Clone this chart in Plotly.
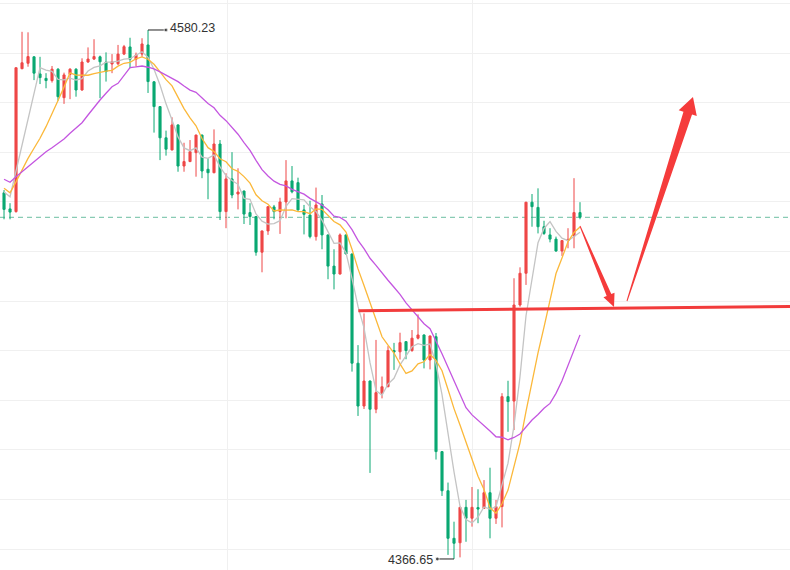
import plotly.graph_objects as go
import pandas as pd
import math

# ---------------- data ----------------
opens = [4514.5, 4508.0, 4506.9, 4564.6, 4566.8, 4569.4, 4562.5, 4560.7, 4559.8, 4564.4,
         4552.9, 4562.3, 4564.4, 4556.0, 4567.3, 4568.5, 4569.4, 4567.3, 4566.5, 4566.6,
         4570.5, 4573.4, 4568.4, 4570.5, 4574.2, 4559.3, 4549.3, 4536.7, 4531.8, 4541.9,
         4525.3, 4527.1, 4530.7, 4537.8, 4524.0, 4522.6, 4534.2, 4506.9, 4520.1, 4514.0,
         4515.2, 4506.5, 4504.9, 4490.5, 4499.1, 4508.8, 4506.9, 4510.8, 4519.3, 4518.6,
         4507.6, 4505.5, 4496.8, 4510.0, 4497.5, 4484.9, 4481.7, 4497.5, 4489.8, 4445.7,
         4428.4, 4438.5, 4427.1, 4433.6, 4436.2, 4450.8, 4450.3, 4454.4, 4450.8, 4455.8,
         4457.1, 4447.0, 4456.4, 4410.0, 4394.2, 4375.0, 4373.2, 4387.5, 4383.1, 4387.4,
         4387.1, 4393.4, 4383.1, 4387.8, 4432.2, 4430.4, 4469.2, 4482.0, 4510.7, 4508.6,
         4500.8, 4497.5, 4495.8, 4491.0, 4495.2, 4497.0, 4506.5]
highs = [4515.6, 4510.3, 4565.0, 4579.5, 4579.3, 4569.6, 4569.4, 4562.8, 4565.7, 4564.8,
         4563.0, 4564.8, 4564.8, 4568.8, 4573.2, 4576.5, 4569.9, 4571.2, 4570.5, 4574.2,
         4574.2, 4577.1, 4571.1, 4576.9, 4580.23, 4559.6, 4549.5, 4539.6, 4545.0, 4542.1,
         4534.7, 4535.8, 4538.0, 4538.0, 4528.4, 4540.1, 4535.8, 4522.4, 4530.9, 4524.4,
         4515.4, 4510.3, 4505.0, 4499.2, 4509.0, 4509.6, 4512.5, 4527.7, 4525.3, 4520.6,
         4509.6, 4511.3, 4516.6, 4513.6, 4497.6, 4491.7, 4498.1, 4497.6, 4490.0, 4453.0,
         4465.8, 4438.7, 4455.1, 4440.3, 4452.6, 4453.9, 4458.0, 4454.6, 4459.1, 4465.4,
         4457.3, 4456.8, 4457.9, 4410.2, 4397.5, 4381.7, 4387.7, 4390.5, 4395.7, 4394.8,
         4398.5, 4403.5, 4390.5, 4433.6, 4438.6, 4480.0, 4484.4, 4510.8, 4514.0, 4516.3,
         4503.2, 4500.2, 4496.8, 4495.3, 4500.2, 4520.4, 4510.7]
lows = [4503.8, 4503.8, 4506.5, 4564.4, 4565.4, 4560.0, 4558.4, 4556.7, 4559.0, 4551.7,
        4550.4, 4552.3, 4553.3, 4555.7, 4567.0, 4568.1, 4552.7, 4559.4, 4562.8, 4566.1,
        4570.1, 4564.8, 4565.4, 4569.4, 4554.8, 4538.8, 4527.7, 4529.5, 4531.6, 4523.0,
        4523.0, 4526.9, 4521.0, 4520.4, 4511.9, 4522.4, 4503.5, 4500.2, 4512.3, 4507.8,
        4501.9, 4501.5, 4489.1, 4482.4, 4497.5, 4503.8, 4497.9, 4504.2, 4514.3, 4507.3,
        4497.7, 4496.1, 4495.2, 4491.7, 4479.6, 4475.5, 4481.5, 4489.6, 4442.3, 4424.4,
        4427.2, 4401.4, 4425.5, 4431.5, 4436.0, 4443.0, 4447.2, 4447.3, 4450.3, 4455.3,
        4443.6, 4443.2, 4406.8, 4392.1, 4368.3, 4366.65, 4367.3, 4373.6, 4379.7, 4381.1,
        4386.9, 4375.0, 4380.8, 4379.4, 4418.0, 4418.7, 4468.5, 4477.3, 4500.8, 4498.1,
        4497.5, 4494.5, 4490.7, 4489.0, 4492.1, 4492.1, 4503.8]
closes = [4507.8, 4506.7, 4565.0, 4567.0, 4569.5, 4562.8, 4561.0, 4559.8, 4564.4, 4553.3,
          4562.1, 4564.4, 4556.0, 4567.3, 4568.5, 4569.5, 4567.4, 4563.4, 4567.4, 4570.5,
          4573.5, 4568.4, 4570.1, 4574.6, 4559.4, 4549.3, 4536.7, 4532.1, 4541.9, 4525.3,
          4527.1, 4531.1, 4537.8, 4523.3, 4522.6, 4534.2, 4506.9, 4520.1, 4513.6, 4514.8,
          4505.9, 4504.9, 4490.5, 4499.1, 4508.9, 4506.9, 4510.8, 4519.3, 4514.9, 4507.6,
          4505.8, 4496.8, 4509.6, 4497.5, 4484.9, 4481.7, 4497.5, 4489.8, 4445.7, 4428.4,
          4438.5, 4427.1, 4433.8, 4436.2, 4450.8, 4450.2, 4454.0, 4450.8, 4455.8, 4457.1,
          4447.0, 4456.7, 4410.0, 4394.2, 4375.0, 4373.0, 4387.5, 4383.1, 4387.5, 4386.8,
          4393.4, 4383.1, 4387.8, 4432.2, 4430.2, 4469.2, 4482.0, 4510.7, 4508.9, 4500.8,
          4498.1, 4495.8, 4491.0, 4495.2, 4495.7, 4506.5, 4504.6]

# moving-average values read from the picture where the window is not yet full
ma5_head = [4514.8, 4512.9, 4523.3, 4533.6]
ma10_head = [4516.3, 4514.5, 4518.9, 4523.7, 4528.4, 4532.5, 4536.5, 4541.2, 4546.2]
ma20_head = [4519.95, 4518.74, 4521.00, 4523.02, 4525.03, 4527.05, 4529.35, 4531.09,
             4532.71, 4534.48, 4536.22, 4538.52, 4540.54, 4542.80, 4545.91, 4549.02,
             4551.96, 4554.67, 4557.33]

max_label = "4580.23"
min_label = "4366.65"
max_idx, max_price = 24, 4580.23
min_idx, min_price = 75, 4366.65

# drawn objects (x in candle index units, y in price)
support_line = [(59.05, 4466.9), (131.0, 4468.6)]
arrow_down = dict(start=(96.0, 4501.1), tip=(101.67, 4468.4), w0=1, w1=5, hw=12, hl=13)
arrow_up = dict(start=(103.83, 4470.8), tip=(114.83, 4553.2), w0=1, w1=9, hw=19, hl=17)

# ---------------- figure ----------------
W, H = 790, 570
x_range = [-0.67, 131.0]
y_range = [4362.2, 4592.34]
sx = W / (x_range[1] - x_range[0])
sy = H / (y_range[1] - y_range[0])

RED = "#ee4747"
GREEN = "#0aa872"

xs = list(range(len(closes)))
cs = pd.Series(closes)


def ma(n, head):
    vals = cs.rolling(n).mean().tolist()
    vals[:len(head)] = head
    return vals


ma5 = ma(5, ma5_head)
ma10 = ma(10, ma10_head)
ma20 = ma(20, ma20_head)

fig = go.Figure()
fig.add_trace(go.Candlestick(
    x=xs, open=opens, high=highs, low=lows, close=closes,
    increasing=dict(line=dict(color=RED, width=1), fillcolor=RED),
    decreasing=dict(line=dict(color=GREEN, width=1), fillcolor=GREEN),
    whiskerwidth=0, hoverinfo="skip", showlegend=False))

for vals, col in [(ma5, "#c4c4c4"), (ma10, "#fbb83a"), (ma20, "#c456e0")]:
    fig.add_trace(go.Scatter(x=xs, y=vals, mode="lines",
                             line=dict(color=col, width=1.3),
                             hoverinfo="skip", showlegend=False))

# last price dashed line
fig.add_shape(type="line", xref="x", yref="y", x0=x_range[0], x1=x_range[1],
              y0=closes[-1], y1=closes[-1],
              line=dict(color="#6cbfa2", width=1, dash="5px,4px"), layer="below")

# max / min markers
fig.add_trace(go.Scatter(x=[max_idx, max_idx + 3.0], y=[max_price, max_price],
                         mode="lines+markers", line=dict(color="#222", width=1),
                         marker=dict(size=[0, 4], color="#222"),
                         hoverinfo="skip", showlegend=False))
fig.add_annotation(x=max_idx + 3.3, y=max_price, text=max_label, showarrow=False,
                   xanchor="left", yanchor="middle", yshift=2,
                   font=dict(family="Liberation Sans, Arial", size=12.5, color="#333"))
fig.add_trace(go.Scatter(x=[min_idx, min_idx - 2.8], y=[min_price, min_price],
                         mode="lines+markers", line=dict(color="#222", width=1),
                         marker=dict(size=[0, 4], color="#222"),
                         hoverinfo="skip", showlegend=False))
fig.add_annotation(x=min_idx - 3.1, y=min_price, text=min_label, showarrow=False,
                   xanchor="right", yanchor="middle", yshift=-1,
                   font=dict(family="Liberation Sans, Arial", size=12.5, color="#333"))

# support line
fig.add_shape(type="line", xref="x", yref="y",
              x0=support_line[0][0], y0=support_line[0][1],
              x1=support_line[1][0], y1=support_line[1][1],
              line=dict(color="#f23c3c", width=3))


def arrow_path(a):
    (x0, y0), (x1, y1) = a["start"], a["tip"]
    X0, Y0, X1, Y1 = x0 * sx, y0 * sy, x1 * sx, y1 * sy
    L = math.hypot(X1 - X0, Y1 - Y0)
    dx, dy = (X1 - X0) / L, (Y1 - Y0) / L
    nx, ny = -dy, dx
    bx, by = X1 - dx * a["hl"], Y1 - dy * a["hl"]
    pts = [(X0 + nx * a["w0"] / 2, Y0 + ny * a["w0"] / 2),
           (bx + nx * a["w1"] / 2, by + ny * a["w1"] / 2),
           (bx + nx * a["hw"] / 2, by + ny * a["hw"] / 2),
           (X1, Y1),
           (bx - nx * a["hw"] / 2, by - ny * a["hw"] / 2),
           (bx - nx * a["w1"] / 2, by - ny * a["w1"] / 2),
           (X0 - nx * a["w0"] / 2, Y0 - ny * a["w0"] / 2)]
    return "M " + " L ".join(f"{px / sx:.4f},{py / sy:.4f}" for px, py in pts) + " Z"


for a in (arrow_down, arrow_up):
    fig.add_shape(type="path", xref="x", yref="y", path=arrow_path(a),
                  fillcolor="#f53b3b", line=dict(width=0))

fig.update_layout(
    width=W, height=H, margin=dict(l=0, r=0, t=0, b=0),
    paper_bgcolor="white", plot_bgcolor="white", showlegend=False,
    boxgap=0.5,
    xaxis=dict(range=x_range, rangeslider=dict(visible=False), showticklabels=False,
               tickvals=[37.17, 78.0], showgrid=True, gridcolor="#f0f0f0",
               zeroline=False, showline=False, ticks=""),
    yaxis=dict(range=y_range, showticklabels=False, tick0=4370.68, dtick=20.026,
               showgrid=True, gridcolor="#f0f0f0", zeroline=False, showline=False,
               ticks=""),
)

fig.write_html("out.html")
